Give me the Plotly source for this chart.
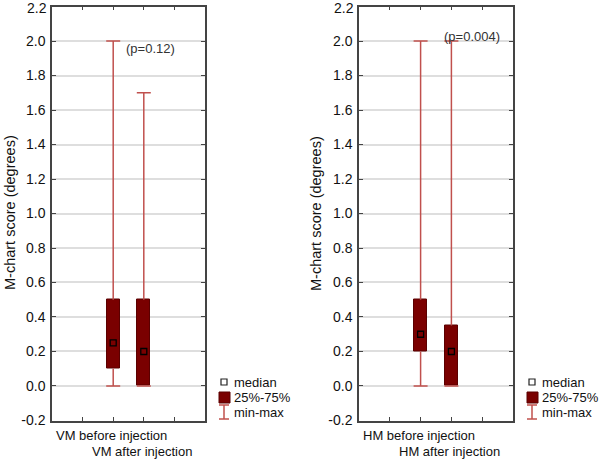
import plotly.graph_objects as go

# ---- data ----
vm_labels = ["VM before injection", "VM after injection"]
hm_labels = ["HM before injection", "HM after injection"]
positions = [2, 3]

vm_min = [0.0, 0.0]
vm_q1 = [0.1, 0.0]
vm_median = [0.25, 0.2]
vm_q3 = [0.5, 0.5]
vm_max = [2.0, 1.7]

hm_min = [0.0, 0.0]
hm_q1 = [0.2, 0.0]
hm_median = [0.3, 0.2]
hm_q3 = [0.5, 0.35]
hm_max = [2.0, 2.0]

p_texts = ["(p=0.12)", "(p=0.004)"]
y_ticks = [-0.2, 0.0, 0.2, 0.4, 0.6, 0.8, 1.0, 1.2, 1.4, 1.6, 1.8, 2.0, 2.2]
legend_labels = ["median", "25%-75%", "min-max"]

BOX = "#7a0000"
WHISK = "#c0504d"
FONT = "Liberation Sans, Arial, sans-serif"
W, H = 600, 459

# top tick label is drawn as an annotation so it stays inside the page (as in the reference)
y_ticktext = ["%.1f" % v for v in y_ticks[:-1]] + [""]
top_label = "%.1f" % y_ticks[-1]

fig = go.Figure()

def add_panel(xa, ya, q1, med, q3, mn, mx):
    # whiskers (outside the box only)
    wx, wy = [], []
    for p, a, b, c, d in zip(positions, mn, q1, q3, mx):
        wx += [p, p, None, p, p, None]
        wy += [a, b, None, c, d, None]
    fig.add_trace(go.Scatter(x=wx, y=wy, mode="lines", line=dict(color=WHISK, width=1.5),
                             xaxis=xa, yaxis=ya, showlegend=False, hoverinfo="skip"))
    # caps
    cx, cy = [], []
    for p, a, d in zip(positions, mn, mx):
        cx += [p, p]
        cy += [a, d]
    fig.add_trace(go.Scatter(x=cx, y=cy, mode="markers",
                             marker=dict(symbol="line-ew", size=10, line=dict(color=WHISK, width=1.5)),
                             xaxis=xa, yaxis=ya, showlegend=False, hoverinfo="skip"))
    # boxes
    fig.add_trace(go.Bar(x=positions, y=[b - a for a, b in zip(q1, q3)], base=q1, width=0.42,
                         marker=dict(color=BOX, line=dict(color="#5a0000", width=1)),
                         xaxis=xa, yaxis=ya, showlegend=False))
    # medians
    fig.add_trace(go.Scatter(x=positions, y=med, mode="markers",
                             marker=dict(symbol="square-open", size=6, color="black",
                                         line=dict(color="black", width=1.3)),
                             xaxis=xa, yaxis=ya, showlegend=False))

add_panel("x", "y", vm_q1, vm_median, vm_q3, vm_min, vm_max)
add_panel("x2", "y2", hm_q1, hm_median, hm_q3, hm_min, hm_max)

xd1 = [52 / W, 205 / W]
xd2 = [359 / W, 513 / W]
yd = [1 - 420.5 / H, 1 - 6.5 / H]

xcommon = dict(range=[0, 5], tickvals=[1, 2, 3, 4], ticktext=["", "", "", ""], ticks="inside",
               ticklen=4, tickcolor="#444", showline=True, linecolor="#444", linewidth=1.5,
               mirror="ticks", showgrid=False, zeroline=False, fixedrange=True, automargin=False)
ycommon = dict(range=[-0.2001, 2.2001], tickvals=y_ticks, ticktext=y_ticktext, ticks="inside", ticklen=4,
               tickcolor="#444", showline=True, linecolor="#444", linewidth=1.5, mirror="ticks",
               showgrid=True, gridcolor="#dedede", gridwidth=1.5, zeroline=False,
               ticklabeloverflow="allow", automargin=False,
               tickfont=dict(family=FONT, size=14, color="#111"), ticklabelstandoff=2)

fig.update_layout(
    width=W, height=H, margin=dict(l=0, r=0, t=0, b=0, autoexpand=False),
    paper_bgcolor="white", plot_bgcolor="white", showlegend=False, bargap=0,
    xaxis=dict(domain=xd1, anchor="y", **xcommon),
    xaxis2=dict(domain=xd2, anchor="y2", **xcommon),
    yaxis=dict(domain=yd, anchor="x", **ycommon),
    yaxis2=dict(domain=yd, anchor="x2", **ycommon),
    font=dict(family=FONT, size=13, color="#111"),
)

ann = []
# top tick labels
for d in [xd1, xd2]:
    ann.append(dict(text=top_label, x=d[0] * W - 4.5, y=1 - 7.5 / H, xref="paper", yref="paper",
                    showarrow=False, font=dict(size=14, family=FONT, color="#111"),
                    xanchor="right", yanchor="middle", borderpad=0))
# y titles
for xpix in [10, 316]:
    ann.append(dict(text="M-chart score (degrees)", x=xpix / W, y=1 - 213 / H, xref="paper", yref="paper",
                    textangle=-90, showarrow=False, font=dict(size=14.5, family=FONT, color="#111"),
                    xanchor="center", yanchor="middle"))
# category labels (staggered)
for xa, labels in [("x", vm_labels), ("x2", hm_labels)]:
    for i, (p, lab) in enumerate(zip(positions, labels)):
        ann.append(dict(text=lab, x=p - 0.05, y=1 - (435 + 16 * i) / H, xref=xa, yref="paper",
                        showarrow=False, font=dict(size=13, family=FONT, color="#111"),
                        xanchor="center", yanchor="middle"))
# p values
ann.append(dict(text=p_texts[0], x=150 / W, y=1 - 49 / H, xref="paper", yref="paper", showarrow=False,
                font=dict(size=13, family=FONT, color="#333"), xanchor="center", yanchor="middle"))
ann.append(dict(text=p_texts[1], x=472 / W, y=1 - 37 / H, xref="paper", yref="paper", showarrow=False,
                font=dict(size=13, family=FONT, color="#333"), xanchor="center", yanchor="middle"))

shapes = []
# legends
for lx in [224, 532]:
    ys = [382, 397, 412]
    for lab, yy in zip(legend_labels, ys):
        ann.append(dict(text=lab, x=(lx + 8) / W, y=1 - yy / H, xref="paper", yref="paper",
                        showarrow=False, font=dict(size=13, family=FONT, color="#111"),
                        xanchor="left", yanchor="middle"))
    # median glyph
    shapes.append(dict(type="rect", xref="paper", yref="paper", x0=(lx - 3) / W, x1=(lx + 3) / W,
                       y0=1 - 385 / H, y1=1 - 379 / H, line=dict(color="#222", width=1.2)))
    # box glyph
    shapes.append(dict(type="rect", xref="paper", yref="paper", x0=(lx - 5) / W, x1=(lx + 6) / W,
                       y0=1 - 403 / H, y1=1 - 392 / H, fillcolor=BOX, line=dict(color="#5a0000", width=1)))
    # whisker glyph
    shapes.append(dict(type="line", xref="paper", yref="paper", x0=lx / W, x1=lx / W,
                       y0=1 - 419 / H, y1=1 - 405 / H, line=dict(color=WHISK, width=1.5)))
    for yy in [405, 419]:
        shapes.append(dict(type="line", xref="paper", yref="paper", x0=(lx - 5) / W, x1=(lx + 5) / W,
                           y0=1 - yy / H, y1=1 - yy / H, line=dict(color=WHISK, width=1.5)))

# annotation x for top labels is in pixels above; convert to paper
ann[0]["x"] = ann[0]["x"] / W
ann[1]["x"] = ann[1]["x"] / W

fig.update_layout(annotations=ann, shapes=shapes)
fig.write_html("out.html", config={"displayModeBar": False},
               post_script="document.body.style.margin='0';document.body.style.padding='0';")
